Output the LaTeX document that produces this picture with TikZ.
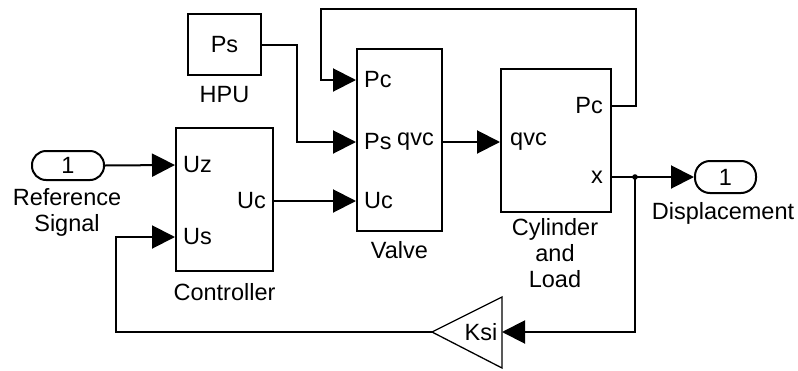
\documentclass[tikz,border=0pt]{standalone}
\usepackage{fontspec}
\setmainfont{Liberation Sans}
\usetikzlibrary{arrows.meta}
\begin{document}
\begin{tikzpicture}[x=1pt,y=-1pt,
  font=\fontsize{23.5}{26}\selectfont,
  blk/.style={draw,line width=2pt,inner sep=0pt,rectangle},
  port/.style={inner sep=0pt},
  wire/.style={line width=2pt},
  arr/.style={wire,-{Triangle[length=23pt,width=23pt]}},
  lbl/.style={inner sep=0pt,align=center}]
\useasboundingbox (0,0) rectangle (798,370);
% blocks
\node[blk,minimum width=73pt,minimum height=61pt] (hpu) at (224.5,44.5) {Ps};
\node[lbl] (hpul) at (224.5,95) {HPU};
\node[blk,minimum width=97pt,minimum height=143pt] (ctrl) at (224.5,199.5) {};
\node[lbl] (ctrll) at (224.5,292) {Controller};
\node[blk,minimum width=85pt,minimum height=182pt] (valve) at (399.5,140) {};
\node[lbl] (valvel) at (399.5,250) {Valve};
\node[blk,minimum width=110pt,minimum height=143pt] (cyl) at (556,140.5) {};
\node[lbl,anchor=north] (cyll) at (555,218) {Cylinder\\and\\Load};
\node[blk,rounded corners=14pt,minimum width=72pt,minimum height=29pt] (inp) at (68,165.5) {1};
\node[lbl,anchor=north] (inpl) at (67,188) {Reference\\Signal};
\node[blk,rounded corners=15pt,minimum width=61pt,minimum height=32pt] (outp) at (725.5,177) {1};
\node[lbl] (outpl) at (723,213) {Displacement};
% gain
\coordinate (gtip) at (432,332);
\coordinate (gin) at (502,332);
\draw[line width=1.3pt,line join=miter] (gtip) -- (502,297) -- (502,368) -- cycle;
\node[lbl] (gainl) at (481,332) {Ksi};
% port labels
\node[port,anchor=west] (cuz) at (183,165) {Uz};
\node[port,anchor=west] (cus) at (183,237) {Us};
\node[port,anchor=east] (cuc) at (266,201) {Uc};
\node[port,anchor=west] (vpc) at (364,80) {Pc};
\node[port,anchor=west] (vps) at (364,142) {Ps};
\node[port,anchor=west] (vuc) at (364,201) {Uc};
\node[port,anchor=east] (vq) at (434,142) {qvc};
\node[port,anchor=west] (cq) at (510,142) {qvc};
\node[port,anchor=east] (cpc) at (603,106) {Pc};
\node[port,anchor=east] (cx) at (603,177) {x};
% connectors
\draw[arr] (inp.east) -- (ctrl.west |- 0,165);
\draw[arr] (hpu.east) -| (297,142) -- (valve.west |- 0,142);
\draw[arr] (ctrl.east |- 0,201) -- (valve.west |- 0,201);
\draw[arr] (valve.east |- 0,142) -- (cyl.west |- 0,142);
\draw[arr] (cyl.east |- 0,106) -| (636,9) -| (321,80) -- (valve.west |- 0,80);
\coordinate (jn) at (635,177);
\draw[arr] (cyl.east |- 0,177) -- (outp.west);
\fill (jn) circle (2.8pt);
\draw[arr] (jn) |- (gin);
\draw[arr] (gtip) -| (116,237) -- (ctrl.west |- 0,237);
\end{tikzpicture}
\end{document}
